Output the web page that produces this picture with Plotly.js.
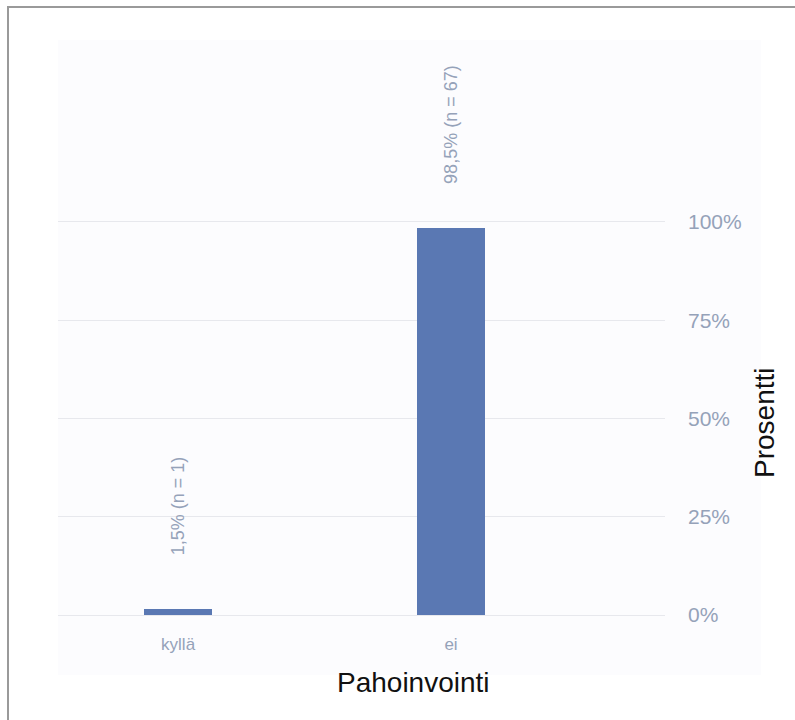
<!DOCTYPE html>
<html>
<head>
<meta charset="utf-8">
<script src="https://cdn.plot.ly/plotly-3.0.1.min.js"></script>
<style>
  html, body { margin: 0; padding: 0; background: #ffffff; }
  #wrap { position: relative; width: 795px; height: 720px; overflow: hidden; }
  #chart { position: absolute; left: 0; top: 0; width: 795px; height: 720px; }
  #frame { position: absolute; left: 7px; top: 6px; width: 800px; height: 730px;
           border-left: 2px solid #9a9a9a; border-top: 2px solid #9a9a9a; pointer-events: none; }
</style>
</head>
<body>
<div id="wrap">
  <div id="chart"></div>
  <div id="frame"></div>
</div>
<script>
// Pahoinvointi: answer counts and shares
const categories = ['kyllä', 'ei'];
const percents = [1.5, 98.5];
const counts = [1, 67];
const yTickValues = [0, 25, 50, 75, 100];
const yTickLabels = ['0%', '25%', '50%', '75%', '100%'];
const xTitle = 'Pahoinvointi';
const yTitle = 'Prosentti';

const barColor = '#5a78b3';
const softText = '#95a2b9';
const gridColor = '#e7e8ed';
const titleFont = '"Liberation Sans", Arial, sans-serif';
const regular = '"Liberation Sans", Arial, sans-serif';

function fmtPct(v) {
  return v.toFixed(1).replace('.', ',') + '%';
}

const trace = {
  type: 'bar',
  x: categories,
  y: percents,
  width: 0.25,
  marker: { color: barColor },
  hoverinfo: 'skip'
};

// value labels sitting above each bar, rotated
const valueLabels = categories.map((c, i) => ({
  xref: 'x', yref: 'y',
  x: c, y: percents[i],
  yshift: 103,
  text: fmtPct(percents[i]) + ' (n = ' + counts[i] + ')',
  textangle: -90,
  showarrow: false,
  xanchor: 'center', yanchor: 'middle',
  font: { family: regular, size: 18, color: softText }
}));

const titles = [
  {
    xref: 'paper', yref: 'paper',
    x: (413 - 58) / 607, y: (615 - 682) / 575,
    text: xTitle, showarrow: false,
    xanchor: 'center', yanchor: 'middle',
    font: { family: titleFont, size: 28, color: '#111111' }
  },
  {
    xref: 'paper', yref: 'paper',
    x: (764 - 58) / 607, y: (615 - 423) / 575,
    text: yTitle, textangle: -90, showarrow: false,
    xanchor: 'center', yanchor: 'middle',
    font: { family: titleFont, size: 28, color: '#111111' }
  }
];

const layout = {
  width: 795, height: 720,
  margin: { l: 58, r: 130, t: 40, b: 105 },
  paper_bgcolor: '#ffffff',
  plot_bgcolor: 'rgba(0,0,0,0)',
  showlegend: false,
  bargap: 0,
  xaxis: {
    type: 'category',
    range: [-0.44, 1.784],
    showgrid: false,
    zeroline: false,
    showline: false,
    ticks: '',
    ticklabelstandoff: 17,
    tickfont: { family: regular, size: 17, color: softText },
    fixedrange: true
  },
  yaxis: {
    side: 'right',
    range: [0, 146.3],
    tickmode: 'array',
    tickvals: yTickValues,
    ticktext: yTickLabels,
    showgrid: true,
    gridcolor: gridColor,
    gridwidth: 1,
    zeroline: true,
    zerolinecolor: gridColor,
    zerolinewidth: 1,
    showline: false,
    ticks: '',
    ticklabelstandoff: 22,
    tickfont: { family: regular, size: 21, color: softText },
    fixedrange: true
  },
  shapes: [
    {
      type: 'rect', xref: 'paper', yref: 'paper', layer: 'below',
      x0: 0, x1: (761 - 58) / 607,
      y0: (615 - 675) / 575, y1: 1.0,
      fillcolor: '#fcfcfe', line: { width: 0 }
    }
  ],
  annotations: valueLabels.concat(titles)
};

Plotly.newPlot('chart', [trace], layout, { displayModeBar: false, staticPlot: true });
</script>
</body>
</html>
